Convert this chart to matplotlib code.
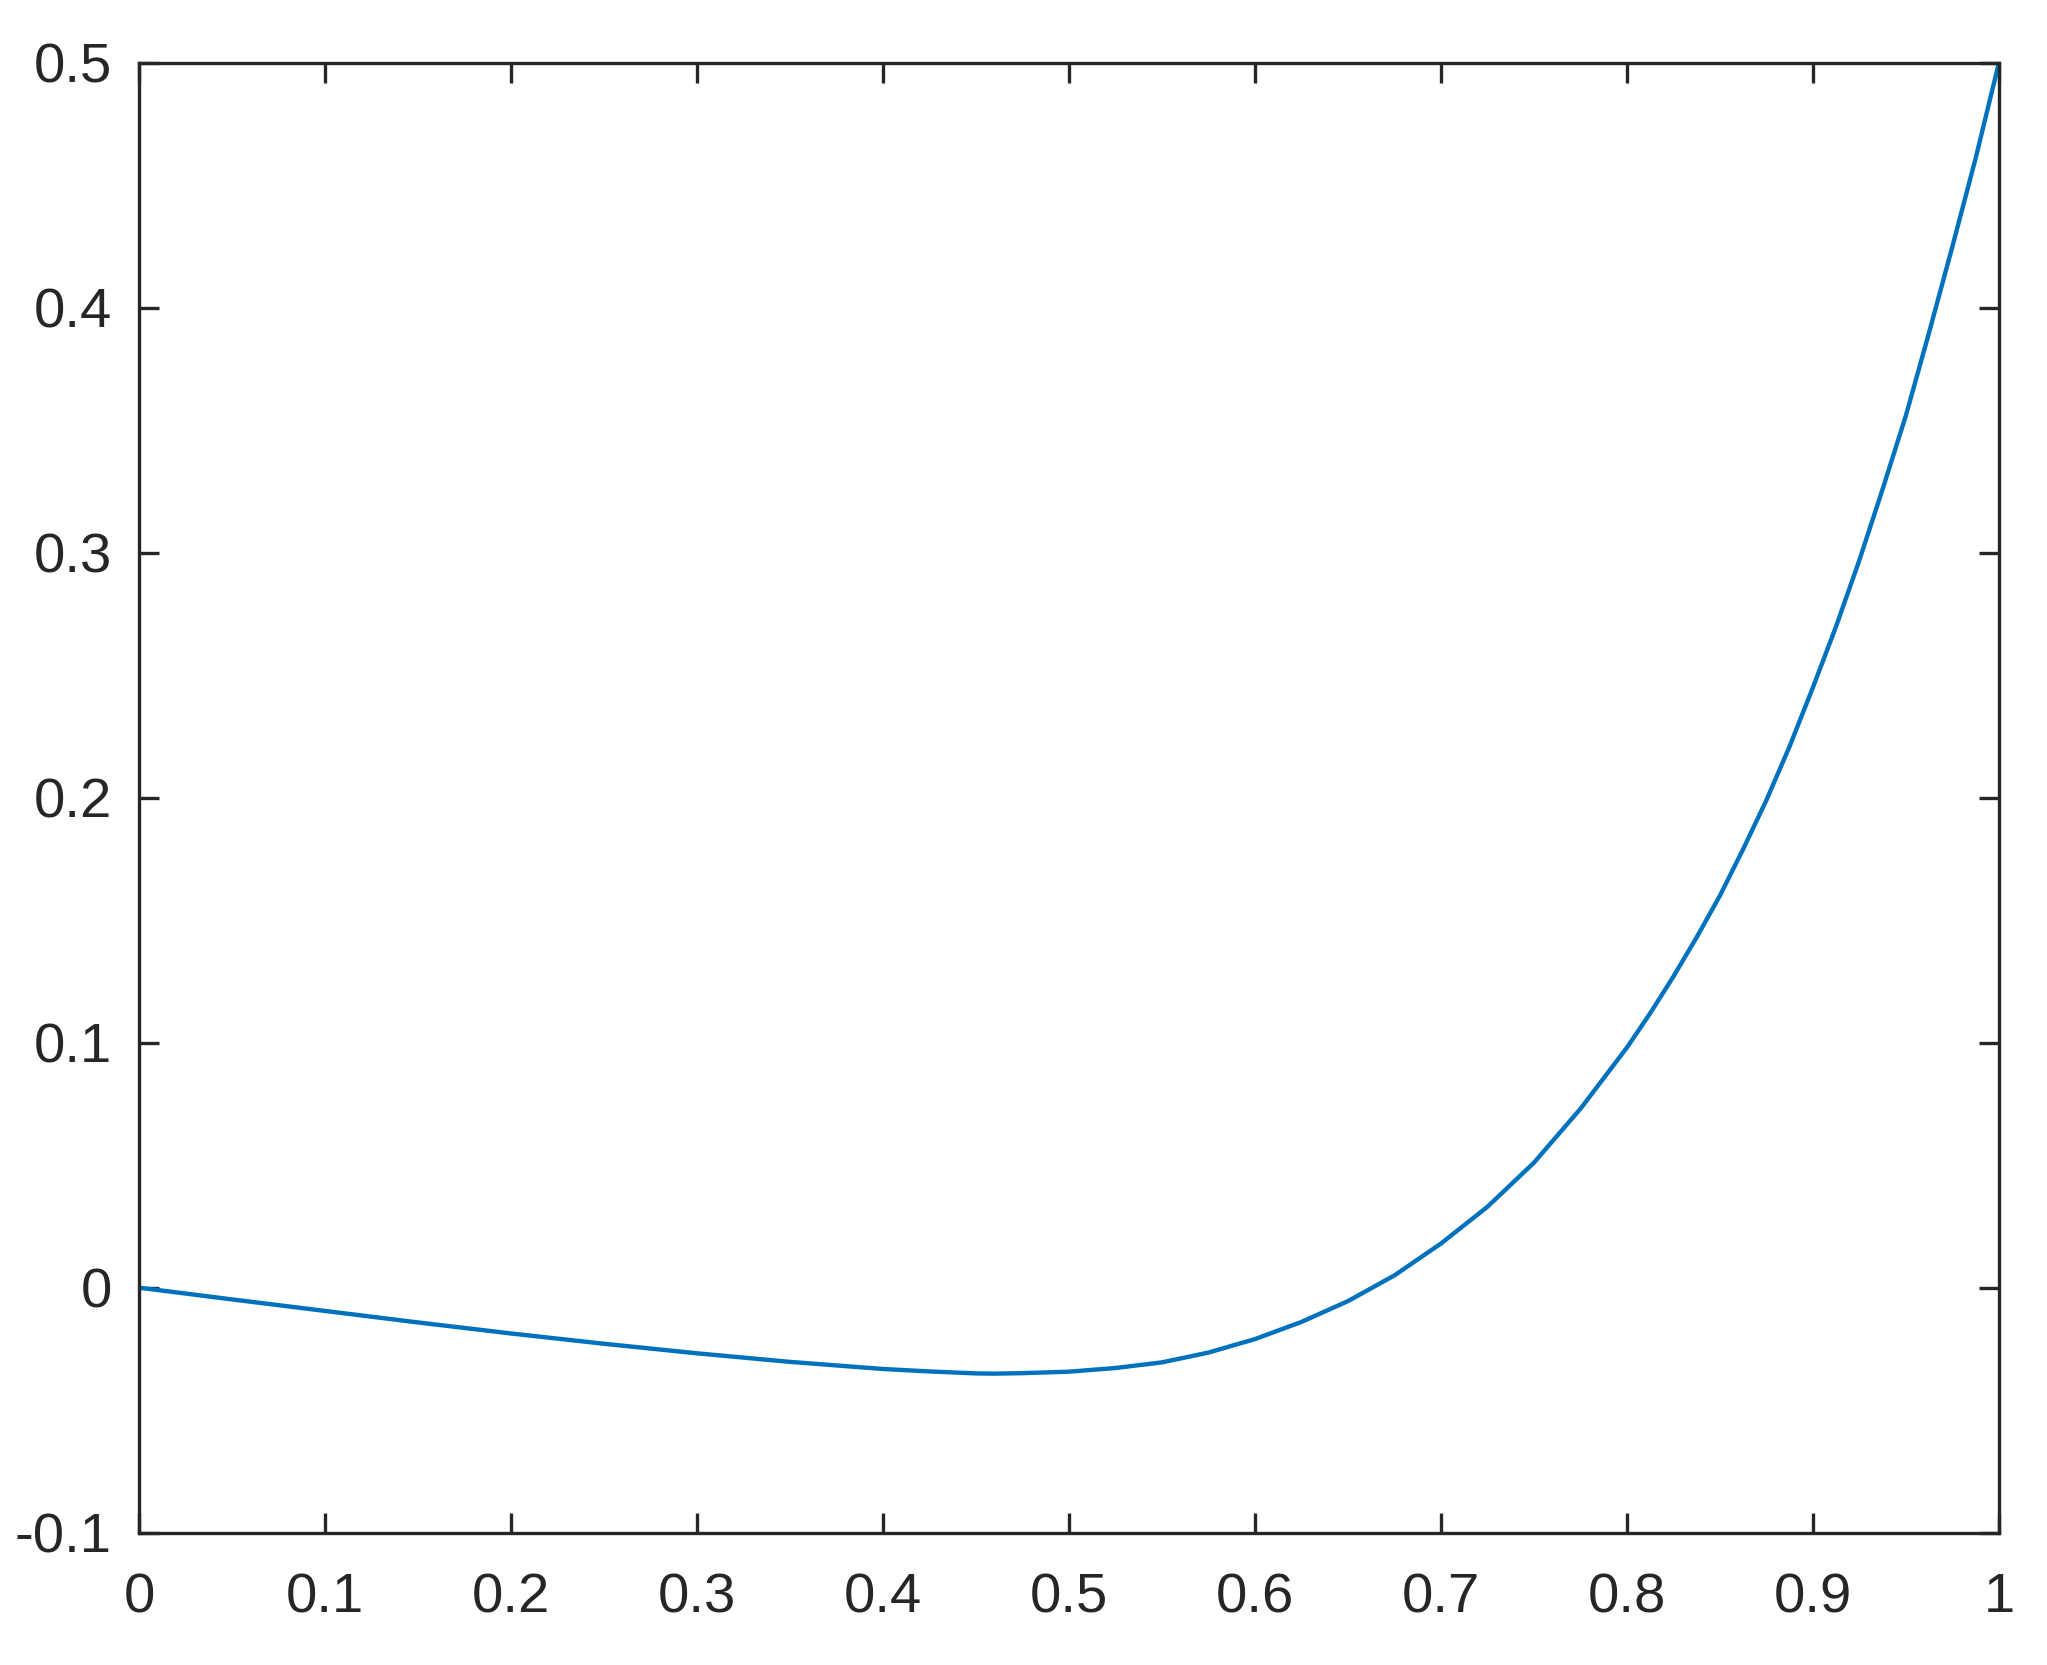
import matplotlib
matplotlib.use("Agg")
import matplotlib.pyplot as plt

# curve values
x_vals = [0.0, 0.05, 0.1, 0.15, 0.2, 0.25, 0.3, 0.35, 0.4, 0.425, 0.45, 0.46,
          0.475, 0.5, 0.525, 0.55, 0.575, 0.6, 0.625, 0.65, 0.675, 0.7, 0.725,
          0.75, 0.775, 0.8, 0.8125, 0.825, 0.8375, 0.85, 0.8625, 0.875, 0.8875,
          0.9, 0.9125, 0.925, 0.9375, 0.95, 0.9625, 0.975, 0.9875, 1.0]
y_vals = [0.0, -0.0048, -0.0095, -0.0142, -0.0187, -0.0229, -0.0268, -0.0303,
          -0.0332, -0.0342, -0.0350, -0.0351, -0.0349, -0.0343, -0.0328, -0.0305,
          -0.0265, -0.0210, -0.0140, -0.0055, 0.0050, 0.0180, 0.0330, 0.0510,
          0.0730, 0.0980, 0.1120, 0.1270, 0.1430, 0.1600, 0.1790, 0.1990, 0.2210,
          0.2450, 0.2700, 0.2970, 0.3260, 0.3560, 0.3900, 0.4250, 0.4610, 0.5000]

x_ticks = [0, 0.1, 0.2, 0.3, 0.4, 0.5, 0.6, 0.7, 0.8, 0.9, 1]
x_labels = ["0", "0.1", "0.2", "0.3", "0.4", "0.5", "0.6", "0.7", "0.8", "0.9", "1"]
y_ticks = [-0.1, 0, 0.1, 0.2, 0.3, 0.4, 0.5]
y_labels = ["-0.1", "0", "0.1", "0.2", "0.3", "0.4", "0.5"]

plt.rcParams['font.family'] = ['Liberation Sans', 'DejaVu Sans']
axis_color = '#262626'

fig = plt.figure(figsize=(2047 / 300, 1665 / 300), dpi=300)
ax = fig.add_axes([0.0679, 0.0795, 0.9805 - 0.0679 - 0.004, 0.9623 - 0.0795])

ax.plot(x_vals, y_vals, color='#0072BD', linewidth=1.05)

ax.set_xlim(0, 1)
ax.set_ylim(-0.1, 0.5)
ax.set_xticks(x_ticks)
ax.set_xticklabels(x_labels)
ax.set_yticks(y_ticks)
ax.set_yticklabels(y_labels)

for spine in ax.spines.values():
    spine.set_color(axis_color)
    spine.set_linewidth(0.8)

ax.tick_params(axis='both', direction='in', length=4.8, width=0.8,
               color=axis_color, labelcolor=axis_color, labelsize=13.5,
               top=True, right=True)
ax.tick_params(axis='x', pad=9.5)
ax.tick_params(axis='y', pad=6.5)

fig.savefig("out.png", dpi=300, facecolor='white')
